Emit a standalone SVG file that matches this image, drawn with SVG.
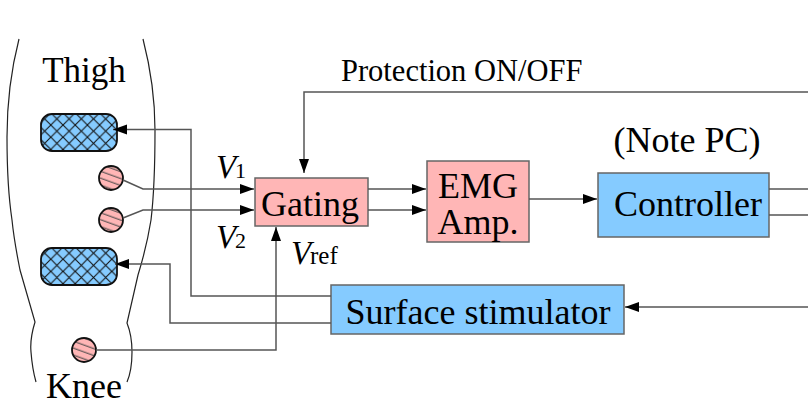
<svg xmlns="http://www.w3.org/2000/svg" width="808" height="402" viewBox="0 0 808 402">
<style>
text{font-family:"Liberation Serif",serif;fill:#000}
.t{font-size:36px}
.box{stroke:#666;stroke-width:1.5}
.pink{fill:#ffb6b6}
.blue{fill:#85cbff}
.con{fill:none;stroke:#555;stroke-width:1.5}
.body{fill:none;stroke:#222;stroke-width:1.2}
.pad{fill:url(#hatch);stroke:#111;stroke-width:1.8}
.el{fill:url(#lines);stroke:#111;stroke-width:1.8}
</style>
<defs>
<pattern id="hatch" width="12.200" height="12.200" patternUnits="userSpaceOnUse" x="2" y="3">
<rect width="12.200" height="12.200" fill="#85cbff"/>
<path d="M0 0L12.200 12.200M12.200 0L0 12.200" stroke="#111" stroke-width="1.100"/>
</pattern>
<pattern id="lines" width="11" height="6.500" patternUnits="userSpaceOnUse" patternTransform="rotate(20)">
<rect width="11" height="6.500" fill="#ffb6b6"/>
<path d="M0 3H11" stroke="#444" stroke-width="1"/>
</pattern>
<marker id="a" markerUnits="userSpaceOnUse" markerWidth="16" markerHeight="12" refX="14" refY="6" orient="auto">
<path d="M0 1L14 6L0 11Z" fill="#000"/>
</marker>
</defs>
<g id="body">
<path class="body" d="M19 39C11 70 7 105 7 137C7 175 9 200 12 220C14 240 17 255 20 270L35 322C31 335 30 342 31 352C32 365 34 375 36 382"/>
<path class="body" d="M143 39C151 70 155 100 155 130C155 170 154 195 151 220C147 245 142 262 138 275L127 323C131 333 132 342 132 352C132 365 130 375 127 382"/>
<text id="thigh" x="84" y="82" font-size="35" text-anchor="middle">Thigh</text>
<text id="knee" class="t" x="84" y="398" text-anchor="middle">Knee</text>
</g>
<g id="pad1"><rect class="pad" x="41" y="114" width="76" height="37" rx="11"/></g>
<g id="pad2"><rect class="pad" x="41" y="248" width="76" height="37" rx="11"/></g>
<g id="electrode1"><circle class="el" cx="111" cy="178" r="12"/></g>
<g id="electrode2"><circle class="el" cx="111" cy="220" r="12"/></g>
<g id="electrode3"><circle class="el" cx="84" cy="350" r="12"/></g>
<g id="gating"><rect class="box pink" x="255" y="178" width="113" height="48"/><text class="t" x="310" y="216" text-anchor="middle">Gating</text></g>
<g id="emg"><rect class="box pink" x="427" y="161" width="102" height="81"/><text class="t" text-anchor="middle"><tspan x="478" y="198">EMG</tspan><tspan x="478" y="234">Amp.</tspan></text></g>
<g id="controller"><rect class="box blue" x="598" y="173" width="171" height="64"/><text class="t" x="688" y="216" text-anchor="middle">Controller</text></g>
<g id="stimulator"><rect class="box blue" x="331" y="285" width="293" height="49"/><text class="t" x="478" y="324" text-anchor="middle">Surface stimulator</text></g>
<g id="connectors">
<path class="con" d="M331 296H191V129.500H113" marker-end="url(#a)"/>
<path class="con" d="M331 323H170V264H115" marker-end="url(#a)"/>
<path class="con" d="M123 180L143 189H254" marker-end="url(#a)"/>
<path class="con" d="M123 218L143 210H254" marker-end="url(#a)"/>
<path class="con" d="M96 350H276V227" marker-end="url(#a)"/>
<path class="con" d="M808 92H304V173" marker-end="url(#a)"/>
<path class="con" d="M368 189H426" marker-end="url(#a)"/>
<path class="con" d="M368 210H426" marker-end="url(#a)"/>
<path class="con" d="M529 199H597" marker-end="url(#a)"/>
<path class="con" d="M769 189H808"/>
<path class="con" d="M769 215H808"/>
<path class="con" d="M808 307H625" marker-end="url(#a)"/>
</g>
<g id="labels">
<text x="341" y="81" font-size="30.500">Protection ON/OFF</text>
<text class="t" x="687" y="152" text-anchor="middle">(Note PC)</text>
<text x="216" y="178" font-size="33" font-style="italic">V</text><text x="235" y="178" font-size="22">1</text>
<text x="216" y="248" font-size="33" font-style="italic">V</text><text x="235" y="248" font-size="22">2</text>
<text x="291" y="264" font-size="33" font-style="italic">V</text><text x="310" y="264" font-size="25">ref</text>
</g>
</svg>
